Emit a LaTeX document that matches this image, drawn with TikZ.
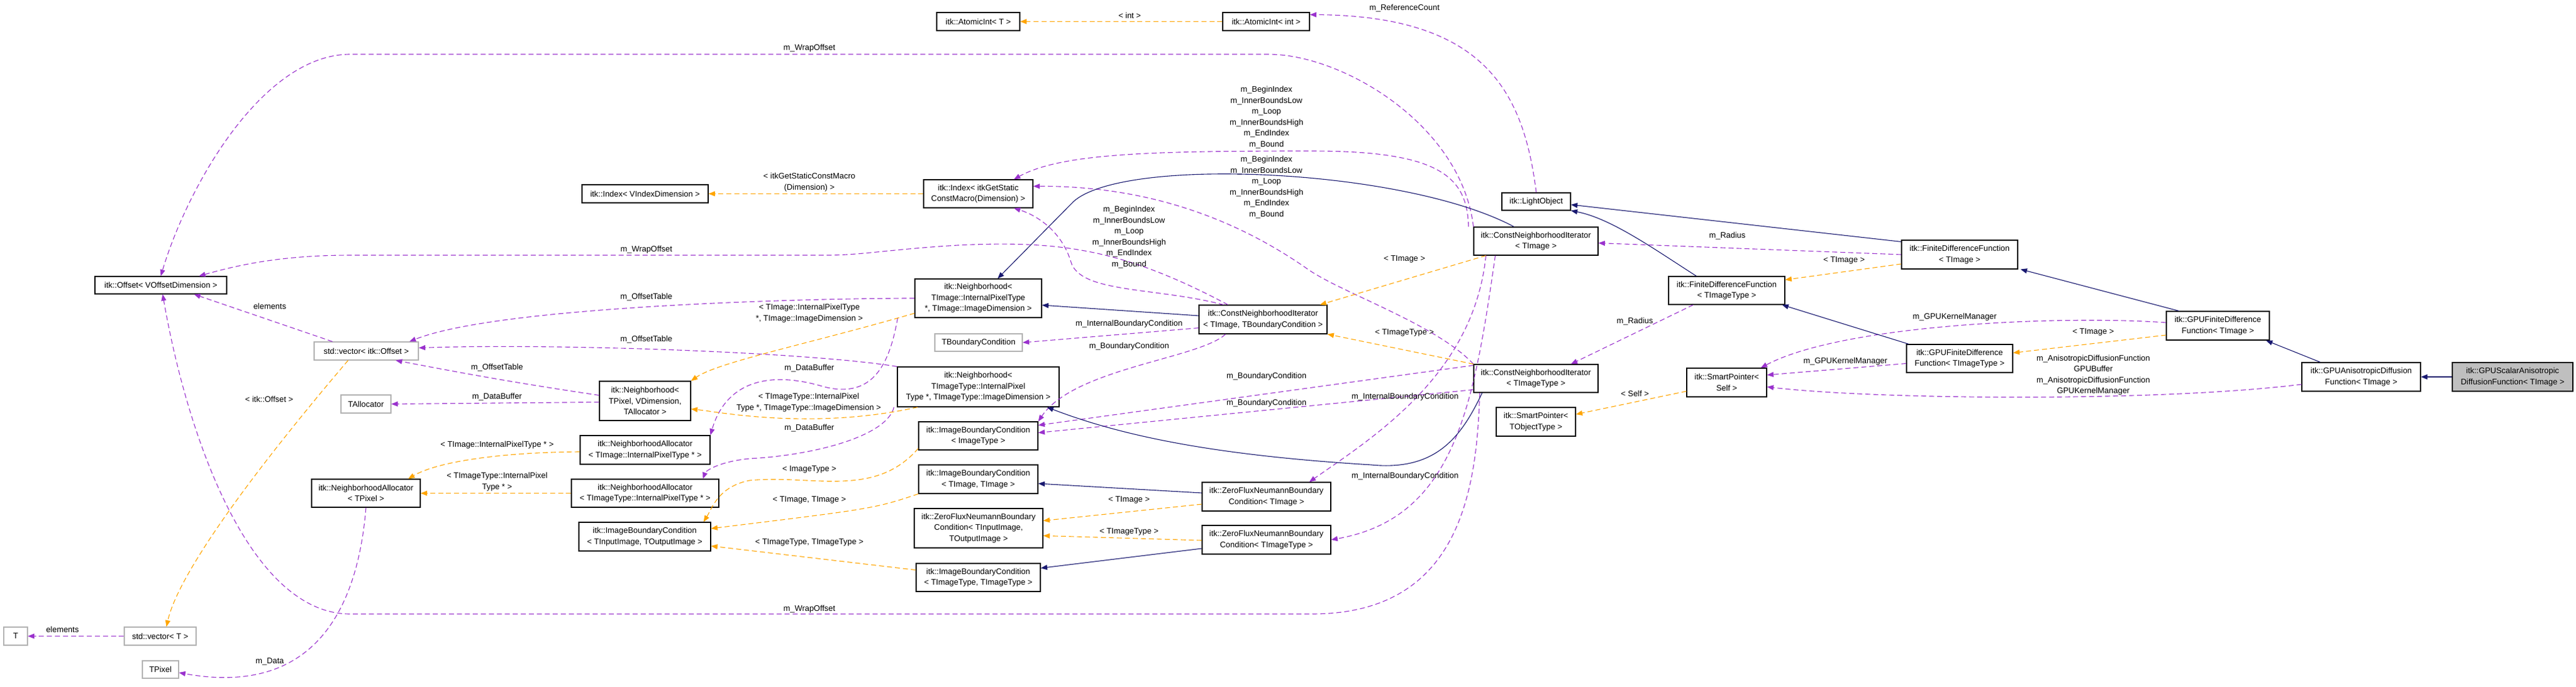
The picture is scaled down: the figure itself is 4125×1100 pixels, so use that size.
\documentclass[tikz,border=0pt]{standalone}
\usepackage{fontspec}
\setmainfont{Liberation Sans}
\usetikzlibrary{arrows.meta,calc}
\definecolor{mem}{HTML}{9A32CD}
\definecolor{tpl}{HTML}{FFA500}
\definecolor{inh}{HTML}{191970}
\begin{document}
\begin{tikzpicture}[x=0.025cm,y=-0.025cm,
  every node/.style={font=\fontsize{9.2}{12.4}\selectfont,inner sep=0pt,align=center},
  box/.style={draw=black,line width=0.8pt,fill=white},
  ext/.style={draw=black!30,line width=0.8pt,fill=white},
  sz/.style 2 args={minimum width=#1*0.025cm,minimum height=#2*0.025cm},
  tip/.style={-{Triangle[length=0.26cm,width=0.2cm]}},
  pe/.style={tip,draw=mem,line width=0.8pt,dash pattern=on 0.2cm off 0.12cm},
  oe/.style={tip,draw=tpl,line width=0.8pt,dash pattern=on 0.2cm off 0.12cm},
  ne/.style={tip,draw=inh,line width=0.8pt},
  lbl/.style={}]
\useasboundingbox (0,0) rectangle (4125,1100);
% classes
\node[box,sz={211}{28}] (off) at (257.5,457) {itk::Offset< VOffsetDimension >};
\node[box,sz={202}{29}] (idxV) at (1033,310.5) {itk::Index< VIndexDimension >};
\node[ext,sz={167}{29}] (vecOff) at (586.5,562.5) {std::vector< itk::Offset >};
\node[ext,sz={80}{29}] (talloc) at (586,647.5) {TAllocator};
\node[box,sz={146}{63}] (nbPix) at (1033,642.5) {itk::Neighborhood<\\ TPixel, VDimension,\\ TAllocator >};
\node[box,sz={208}{46}] (naImg) at (1033,721) {itk::NeighborhoodAllocator\\ < TImage::InternalPixelType * >};
\node[box,sz={174}{45}] (naPix) at (586,790.5) {itk::NeighborhoodAllocator\\ < TPixel >};
\node[box,sz={236}{45}] (naImgT) at (1033,790.5) {itk::NeighborhoodAllocator\\ < TImageType::InternalPixelType * >};
\node[box,sz={211}{46}] (ibcIO) at (1032.5,860) {itk::ImageBoundaryCondition\\ < TInputImage, TOutputImage >};
\node[ext,sz={38}{29}] (tT) at (25,1019.5) {T};
\node[ext,sz={115}{29}] (vecT) at (256.5,1019.5) {std::vector< T >};
\node[ext,sz={58}{28}] (tpix) at (257,1073) {TPixel};
\node[box,sz={133}{29}] (atomT) at (1566.5,34.5) {itk::AtomicInt< T >};
\node[box,sz={139}{29}] (atomI) at (2027.5,34.5) {itk::AtomicInt< int >};
\node[box,sz={175}{45}] (idxS) at (1566.5,310.5) {itk::Index< itkGetStatic\\ConstMacro(Dimension) >};
\node[box,sz={203}{62}] (nbImg) at (1566.5,478) {itk::Neighborhood<\\ TImage::InternalPixelType\\ *, TImage::ImageDimension >};
\node[box,sz={205}{46}] (cniTB) at (2022.5,512) {itk::ConstNeighborhoodIterator\\ < TImage, TBoundaryCondition >};
\node[ext,sz={140}{28}] (tbc) at (1567,549) {TBoundaryCondition};
\node[box,sz={259}{64}] (nbImgT) at (1566.5,620) {itk::Neighborhood<\\ TImageType::InternalPixel\\ Type *, TImageType::ImageDimension >};
\node[box,sz={191}{45}] (ibcI) at (1566.5,698.5) {itk::ImageBoundaryCondition\\ < ImageType >};
\node[box,sz={191}{46}] (ibcTT) at (1566.5,768) {itk::ImageBoundaryCondition\\ < TImage, TImage >};
\node[box,sz={206}{63}] (zfIO) at (1567,846.5) {itk::ZeroFluxNeumannBoundary\\ Condition< TInputImage,\\ TOutputImage >};
\node[box,sz={199}{45}] (ibcTTy) at (1566.5,925.5) {itk::ImageBoundaryCondition\\ < TImageType, TImageType >};
\node[box,sz={206}{46}] (zfI) at (2028,796) {itk::ZeroFluxNeumannBoundary\\ Condition< TImage >};
\node[box,sz={206}{46}] (zfIT) at (2028,865) {itk::ZeroFluxNeumannBoundary\\ Condition< TImageType >};
\node[box,sz={110}{28}] (light) at (2460,323) {itk::LightObject};
\node[box,sz={199}{45}] (cniI) at (2459.5,386.5) {itk::ConstNeighborhoodIterator\\ < TImage >};
\node[box,sz={199}{45}] (cniIT) at (2459.5,606.5) {itk::ConstNeighborhoodIterator\\ < TImageType >};
\node[box,sz={186}{45}] (fdfIT) at (2765,465.5) {itk::FiniteDifferenceFunction\\ < TImageType >};
\node[box,sz={186}{46}] (fdfI) at (3138,408) {itk::FiniteDifferenceFunction\\ < TImage >};
\node[box,sz={128}{46}] (spSelf) at (2765,613) {itk::SmartPointer<\\ Self >};
\node[box,sz={127}{46}] (spObj) at (2459.5,676) {itk::SmartPointer<\\ TObjectType >};
\node[box,sz={165}{46}] (gfdfI) at (3551.5,522) {itk::GPUFiniteDifference\\ Function< TImage >};
\node[box,sz={170}{45}] (gfdfIT) at (3138,574.5) {itk::GPUFiniteDifference\\ Function< TImageType >};
\node[box,sz={190}{46}] (gad) at (3781,604) {itk::GPUAnisotropicDiffusion\\ Function< TImage >};
\node[box,fill=black!25,sz={193}{46}] (gsad) at (4023.5,604) {itk::GPUScalarAnisotropic\\ DiffusionFunction< TImage >};
% members
\draw[pe] (cniI.north west) .. controls (2340,200) and (2150,87) .. (2031,87) -- (561,87) .. controls (420,87) and (300,300) .. (off.north);
\node[lbl] at (1296,77) {m\_WrapOffset};
\draw[pe] ($(cniTB.north west)+(47,0)$) .. controls (1800,400) and (1700,385) .. (1534,393) .. controls (1420,400) and (1380,409) .. (1323,409) -- (561,409) .. controls (450,409) and (380,425) .. ($(off.north east)+(-45,0)$);
\node[lbl] at (1035,400) {m\_WrapOffset};
\draw[pe] ($(cniIT.south west)+(10,0)$) .. controls (2365,800) and (2330,984) .. (2100,984) -- (561,984) .. controls (400,984) and (300,700) .. ($(off.south)+(3,0)$);
\node[lbl] at (1296,976) {m\_WrapOffset};
\draw[pe] ($(cniTB.north west)+(40,0)$) .. controls (1850,460) and (1730,470) .. (1715,420) .. controls (1700,370) and (1660,345) .. ($(idxS.south)+(57,0)$);
\node[lbl] at (1808,380) {m\_BeginIndex\\m\_InnerBoundsLow\\m\_Loop\\m\_InnerBoundsHigh\\m\_EndIndex\\m\_Bound};
\draw[pe] ($(cniI.north west)+(-8,0)$) .. controls (2350,280) and (2300,242) .. (2100,242) .. controls (1850,242) and (1700,245) .. ($(idxS.north)+(57,0)$);
\node[lbl] at (2028,188) {m\_BeginIndex\\m\_InnerBoundsLow\\m\_Loop\\m\_InnerBoundsHigh\\m\_EndIndex\\m\_Bound};
\draw[pe] (cniIT.north west) .. controls (2300,520) and (2150,470) .. (2095,432) .. controls (1950,330) and (1800,298) .. ($(idxS.east)+(0,-12)$);
\node[lbl] at (2028,300) {m\_BeginIndex\\m\_InnerBoundsLow\\m\_Loop\\m\_InnerBoundsHigh\\m\_EndIndex\\m\_Bound};
\draw[pe] (nbImg.west) .. controls (1300,478) and (800,490) .. ($(vecOff.north east)+(-15,0)$);
\node[lbl] at (1035,476) {m\_OffsetTable};
\draw[pe] (nbImgT.north west) .. controls (1300,565) and (900,550) .. ($(vecOff.east)+(0,-5)$);
\node[lbl] at (1035,544) {m\_OffsetTable};
\draw[pe] ($(nbPix.west)+(0,-9)$) .. controls (800,610) and (700,590) .. ($(vecOff.south east)+(-37,0)$);
\node[lbl] at (796,589) {m\_OffsetTable};
\draw[pe] ($(nbPix.west)+(0,2)$) -- (talloc.east);
\node[lbl] at (796,636) {m\_DataBuffer};
\draw[pe] ($(vecOff.north west)+(30,0)$) -- ($(off.south east)+(-53,0)$);
\node[lbl] at (432,491) {elements};
\draw[pe] (vecT.west) -- (tT.east);
\node[lbl] at (100,1009) {elements};
\draw[pe] (naPix.south) .. controls (575,950) and (520,1120) .. ($(tpix.east)+(0,5)$);
\node[lbl] at (432,1060) {m\_Data};
\draw[pe] ($(nbImg.south west)+(-27,0)$) .. controls (1425,580) and (1400,640) .. (1320,620) .. controls (1220,590) and (1160,620) .. (naImg.north east);
\node[lbl] at (1296,590) {m\_DataBuffer};
\draw[pe] ($(nbImgT.south west)+(-5,0)$) .. controls (1420,700) and (1300,730) .. (1200,735) .. controls (1150,740) and (1130,755) .. ($(naImgT.north east)+(-26,0)$);
\node[lbl] at (1296,686) {m\_DataBuffer};
\draw[pe] ($(cniTB.south west)+(0,-10)$) -- (tbc.east);
\node[lbl] at (1808,519) {m\_InternalBoundaryCondition};
\draw[pe] ($(cniTB.south)+(-60,0)$) .. controls (1920,575) and (1720,590) .. (ibcI.north east);
\node[lbl] at (1808,555) {m\_BoundaryCondition};
\draw[pe] ($(cniIT.north west)+(0,2)$) -- ($(ibcI.east)+(0,-17)$);
\node[lbl] at (2028,603) {m\_BoundaryCondition};
\draw[pe] ($(cniIT.west)+(0,18)$) -- ($(ibcI.east)+(0,-5)$);
\node[lbl] at (2028,646) {m\_BoundaryCondition};
\draw[pe] ($(cniI.south west)+(20,0)$) .. controls (2360,600) and (2200,700) .. ($(zfI.north east)+(-35,0)$);
\node[lbl] at (2250,636) {m\_InternalBoundaryCondition};
\draw[pe] ($(cniI.south west)+(35,0)$) .. controls (2360,650) and (2330,830) .. (zfIT.east);
\node[lbl] at (2250,763) {m\_InternalBoundaryCondition};
\draw[pe] (fdfI.west) -- ($(cniI.east)+(0,3)$);
\node[lbl] at (2766,378) {m\_Radius};
\draw[pe] ($(fdfIT.south west)+(40,0)$) -- ($(cniIT.north east)+(-44,0)$);
\node[lbl] at (2618,515) {m\_Radius};
\draw[pe] (light.north) .. controls (2440,150) and (2380,25) .. ($(atomI.east)+(0,-11)$);
\node[lbl] at (2249,13) {m\_ReferenceCount};
\draw[pe] ($(gfdfI.west)+(0,-5)$) .. controls (3300,505) and (2950,520) .. ($(spSelf.north east)+(-10,0)$);
\node[lbl] at (3130,508) {m\_GPUKernelManager};
\draw[pe] ($(gfdfIT.west)+(0,8)$) -- ($(spSelf.east)+(0,-12)$);
\node[lbl] at (2955,579) {m\_GPUKernelManager};
\draw[pe] ($(gad.west)+(0,12)$) .. controls (3450,645) and (3000,640) .. ($(spSelf.east)+(0,7)$);
\node[lbl] at (3352,601) {m\_AnisotropicDiffusionFunction\\GPUBuffer\\m\_AnisotropicDiffusionFunction\\GPUKernelManager};
% template instances
\draw[oe] (atomI.west) -- (atomT.east);
\node[lbl] at (1809,25) {< int >};
\draw[oe] (idxS.west) -- (idxV.east);
\node[lbl] at (1296,292) {< itkGetStaticConstMacro\\(Dimension) >};
\draw[oe] ($(vecOff.south west)+(55,0)$) .. controls (470,680) and (290,900) .. ($(vecT.north)+(10,0)$);
\node[lbl] at (431,640) {< itk::Offset >};
\draw[oe] ($(naImg.west)+(0,3)$) .. controls (800,725) and (700,740) .. ($(naPix.north east)+(-20,0)$);
\node[lbl] at (796,713) {< TImage::InternalPixelType * >};
\draw[oe] (naImgT.west) -- (naPix.east);
\node[lbl] at (796,772) {< TImageType::InternalPixel\\Type * >};
\draw[oe] ($(nbImg.west)+(0,24)$) .. controls (1300,550) and (1150,580) .. (nbPix.north east);
\node[lbl] at (1296,502) {< TImage::InternalPixelType\\*, TImage::ImageDimension >};
\draw[oe] ($(nbImgT.south west)+(33,0)$) .. controls (1300,690) and (1150,660) .. ($(nbPix.east)+(0,13)$);
\node[lbl] at (1295,645) {< TImageType::InternalPixel\\Type *, TImageType::ImageDimension >};
\draw[oe] ($(ibcI.south west)+(0,-3)$) .. controls (1400,800) and (1300,760) .. (1200,770) .. controls (1150,780) and (1140,815) .. ($(ibcIO.north east)+(-12,0)$);
\node[lbl] at (1296,752) {< ImageType >};
\draw[oe] (ibcTT.south west) .. controls (1400,815) .. ($(ibcIO.east)+(0,-13)$);
\node[lbl] at (1296,801) {< TImage, TImage >};
\draw[oe] ($(ibcTTy.west)+(0,-12)$) -- ($(ibcIO.east)+(0,15)$);
\node[lbl] at (1296,869) {< TImageType, TImageType >};
\draw[oe] ($(zfI.west)+(0,12)$) -- ($(zfIO.east)+(0,-12)$);
\node[lbl] at (1808,801) {< TImage >};
\draw[oe] ($(zfIT.west)+(0,1)$) -- ($(zfIO.east)+(0,12)$);
\node[lbl] at (1808,852) {< TImageType >};
\draw[oe] ($(cniI.south west)+(20,0)$) -- ($(cniTB.north east)+(-12,0)$);
\node[lbl] at (2249,415) {< TImage >};
\draw[oe] (cniIT.north west) -- (cniTB.south east);
\node[lbl] at (2249,533) {< TImageType >};
\draw[oe] ($(fdfI.west)+(0,15)$) -- ($(fdfIT.north east)+(0,6)$);
\node[lbl] at (2953,417) {< TImage >};
\draw[oe] ($(spSelf.west)+(0,14)$) -- ($(spObj.east)+(0,-12)$);
\node[lbl] at (2618,631) {< Self >};
\draw[oe] ($(gfdfI.west)+(0,15)$) -- ($(gfdfIT.east)+(0,-9)$);
\node[lbl] at (3352,532) {< TImage >};
% inheritance
\draw[ne] ($(cniTB.west)+(0,-6)$) -- ($(nbImg.east)+(0,11)$);
\draw[ne] ($(cniI.north west)+(65,0)$) .. controls (2250,270) and (1800,250) .. (1719,323) -- ($(nbImg.north)+(31,0)$);
\draw[ne] ($(cniIT.south west)+(14,0)$) .. controls (2340,700) and (2300,755) .. (2196,745) .. controls (1950,730) and (1800,700) .. ($(nbImgT.south east)+(-20,0)$);
\draw[ne] ($(zfI.west)+(0,-6)$) -- ($(ibcTT.east)+(0,7)$);
\draw[ne] ($(zfIT.west)+(0,14)$) -- ($(ibcTTy.east)+(0,-15)$);
\draw[ne] ($(fdfI.north west)+(0,3)$) -- ($(light.east)+(0,5)$);
\draw[ne] ($(fdfIT.north west)+(45,0)$) .. controls (2650,400) and (2580,350) .. (light.south east);
\draw[ne] ($(gfdfI.north west)+(21,0)$) -- ($(fdfI.south east)+(4,0)$);
\draw[ne] ($(gfdfIT.north west)+(4,0)$) -- ($(fdfIT.south east)+(-5,0)$);
\draw[ne] ($(gad.north west)+(30,0)$) -- ($(gfdfI.south east)+(-6,0)$);
\draw[ne] (gsad.west) -- (gad.east);
\end{tikzpicture}
\end{document}
